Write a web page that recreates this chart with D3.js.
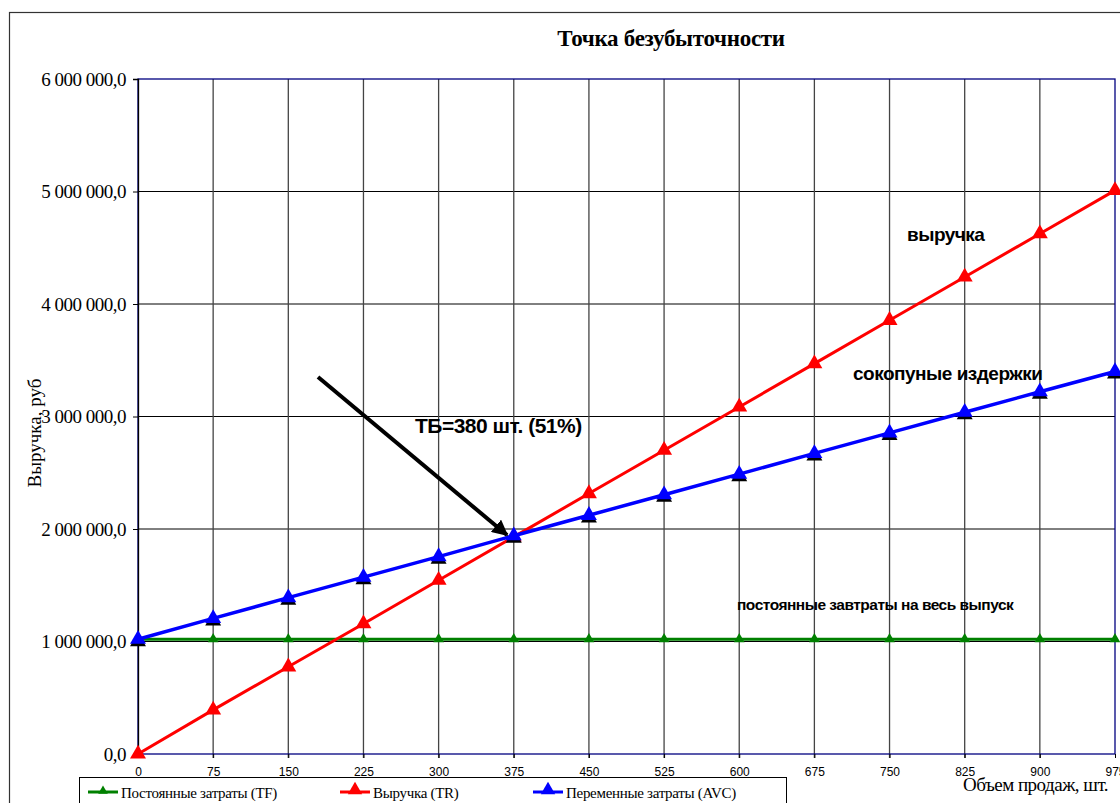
<!DOCTYPE html>
<html><head><meta charset="utf-8">
<script src="https://cdn.jsdelivr.net/npm/d3@7"></script>
<style>body{margin:0;background:#fff}svg{display:block}</style>
</head><body>
<script>
const volumes = [0,75,150,225,300,375,450,525,600,675,750,825,900,975];
const fixedCosts = [1020000,1020000,1020000,1020000,1020000,1020000,1020000,1020000,1020000,1020000,1020000,1020000,1020000,1020000];
const revenue = [0,392000,775000,1158000,1545000,1930000,2315000,2700000,3085000,3470000,3855000,4240000,4625000,5010000];
const totalCosts = [1020000,1205000,1390000,1572000,1755000,1940000,2122000,2305000,2488000,2672000,2855000,3038000,3220000,3400000];
const yTicks = [0,1000000,2000000,3000000,4000000,5000000,6000000];
const seriesNames = ["Постоянные затраты (TF)","Выручка (TR)","Переменные затраты (AVC)"];
const seriesColors = ["#008000","#ff0000","#0000ff"];

const W=1120,H=803;
const svg=d3.select("body").append("svg").attr("width",W).attr("height",H);
// outer frame
svg.append("rect").attr("x",9.5).attr("y",12.5).attr("width",1200).attr("height",900).attr("fill","none").attr("stroke","#333").attr("stroke-width",1.2);

const L=138,R=1115,T=79,B=754;
const x=d3.scaleLinear().domain([0,975]).range([L,R]);
const y=d3.scaleLinear().domain([0,6000000]).range([B,T]);

// horizontal grid
svg.append("g").selectAll("line").data(yTicks.slice(1,-1)).join("line")
 .attr("x1",L).attr("x2",R).attr("y1",d=>y(d)).attr("y2",d=>y(d)).attr("stroke","#000").attr("stroke-width",1);
// vertical grid
svg.append("g").selectAll("line").data(volumes.slice(1,-1)).join("line")
 .attr("x1",d=>x(d)).attr("x2",d=>x(d)).attr("y1",T).attr("y2",B+4).attr("stroke","#444").attr("stroke-width",1.3);

// plot border (navy)
svg.append("rect").attr("x",L).attr("y",T).attr("width",R-L).attr("height",B-T).attr("fill","none").attr("stroke","#000080").attr("stroke-width",1.3);

// y axis
const fmt=d=>d3.format(",.1f")(d).replace(/,/g," ").replace(".",",");
const yAxis=d3.axisLeft(y).tickValues(yTicks).tickSize(5).tickFormat(fmt);
const gy=svg.append("g").attr("transform",`translate(${L},0)`).call(yAxis);
gy.select(".domain").attr("stroke","#000").attr("stroke-width",1.3);
gy.selectAll(".tick line").attr("stroke","#000");
gy.selectAll("text").attr("font-family","Liberation Serif, Times New Roman, serif").attr("font-size",19).attr("fill","#000").attr("x",-12).attr("letter-spacing","-0.5px");

// x axis
const xAxis=d3.axisBottom(x).tickValues(volumes).tickSize(4).tickFormat(d3.format("d"));
const gx=svg.append("g").attr("transform",`translate(0,${B})`).call(xAxis);
gx.select(".domain").remove();
gx.selectAll(".tick line").attr("stroke","#000");
gx.selectAll("text").attr("font-family","Liberation Sans, Arial, sans-serif").attr("font-size",12).attr("fill","#000").attr("y",13);

// series
const tri=d3.symbol().type(d3.symbolTriangle);
function drawSeries(vals,color,lw,msize,shadow){
  const pts=volumes.map((v,i)=>[v,vals[i]]);
  svg.append("path").datum(pts).attr("fill","none").attr("stroke",color).attr("stroke-width",lw)
   .attr("d",d3.line().x(d=>x(d[0])).y(d=>y(d[1])));
  const g=svg.append("g");
  if(shadow){
    g.selectAll("path.s").data(pts).join("path").attr("class","s")
     .attr("transform",d=>`translate(${x(d[0])},${y(d[1])+2.5})`).attr("d",tri.size(msize)()).attr("fill","#000");
  }
  g.selectAll("path.m").data(pts).join("path").attr("class","m")
   .attr("transform",d=>`translate(${x(d[0])},${y(d[1])})`).attr("d",tri.size(msize)()).attr("fill",color);
}
drawSeries(fixedCosts,seriesColors[0],3.2,50,false);
drawSeries(revenue,seriesColors[1],3,110,false);
drawSeries(totalCosts,seriesColors[2],3.5,110,true);

// title
svg.append("text").attr("x",671).attr("y",46).attr("text-anchor","middle").attr("font-family","Liberation Serif, Times New Roman, serif").attr("font-weight","bold").attr("font-size",23).attr("letter-spacing","-0.3px").text("Точка безубыточности");

// y axis title
svg.append("text").attr("transform","translate(41,433) rotate(-90)").attr("text-anchor","middle").attr("font-family","Liberation Serif, Times New Roman, serif").attr("font-size",19).text("Выручка, руб");

// x axis title
svg.append("text").attr("x",963).attr("y",791).attr("font-family","Liberation Serif, Times New Roman, serif").attr("font-size",19).attr("letter-spacing","-0.5px").text("Объем продаж, шт.");

// annotations
const ann=(t,xx,yy,fs)=>svg.append("text").attr("x",xx).attr("y",yy).attr("font-family","Liberation Sans, Arial, sans-serif").attr("font-weight","bold").attr("font-size",fs).attr("letter-spacing","-0.5px").text(t);
ann("ТБ=380 шт. (51%)",415,433,21);
ann("выручка",907,241,19);
ann("сокопуные издержки",853,380,19);
ann("постоянные завтраты на весь выпуск",737,610,15.5);

// arrow
svg.append("defs").append("marker").attr("id","ah").attr("viewBox","0 0 10 10").attr("refX",9).attr("refY",5)
 .attr("markerWidth",4).attr("markerHeight",4).attr("orient","auto").attr("markerUnits","strokeWidth")
 .append("path").attr("d","M0,0 L10,5 L0,10 z").attr("fill","#000");
svg.append("line").attr("x1",318).attr("y1",377).attr("x2",507).attr("y2",535).attr("stroke","#000").attr("stroke-width",4).attr("marker-end","url(#ah)");

// legend
const lg=svg.append("g");
lg.append("rect").attr("x",79.5).attr("y",777.5).attr("width",707).attr("height",40).attr("fill","#fff").attr("stroke","#000").attr("stroke-width",1);
const lx=[88,340,533];
seriesNames.forEach((n,i)=>{
  lg.append("line").attr("x1",lx[i]).attr("x2",lx[i]+30).attr("y1",792).attr("y2",792).attr("stroke",seriesColors[i]).attr("stroke-width",3);
  lg.append("path").attr("transform",`translate(${lx[i]+15},${i==0?791:790})`).attr("d",tri.size(i==0?40:90)()).attr("fill",seriesColors[i]);
  lg.append("text").attr("x",lx[i]+33).attr("y",798).attr("font-family","Liberation Serif, Times New Roman, serif").attr("font-size",15).attr("letter-spacing","-0.3px").text(n);
});
</script>
</body></html>
